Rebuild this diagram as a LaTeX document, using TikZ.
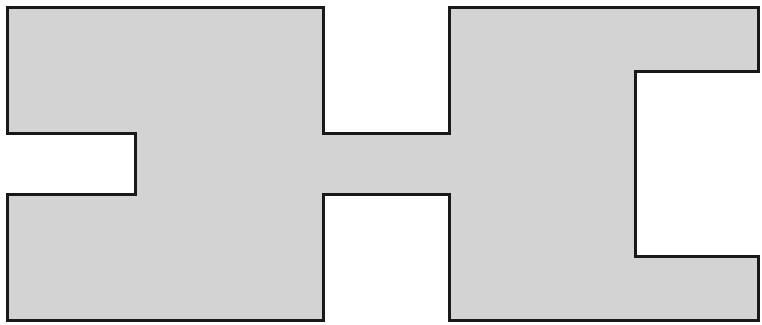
\documentclass[tikz,border=0pt]{standalone}
\definecolor{shapefill}{RGB}{211,211,211}
\definecolor{shapeline}{RGB}{25,25,25}
\tikzset{shapestyle/.style={fill=shapefill,draw=shapeline,line width=3pt,line join=miter}}
\begin{document}
\begin{tikzpicture}[x=1pt,y=-1pt]
\useasboundingbox (0,0) rectangle (762,324);
\draw[shapestyle] (7,7) -- (323,7) -- (323,133) -- (449,133) -- (449,7) -- (758,7)
  -- (758,71) -- (635,71) -- (635,256) -- (758,256) -- (758,320) -- (449,320)
  -- (449,194) -- (323,194) -- (323,320) -- (7,320) -- (7,194) -- (135,194)
  -- (135,133) -- (7,133) -- cycle;
\end{tikzpicture}
\end{document}
